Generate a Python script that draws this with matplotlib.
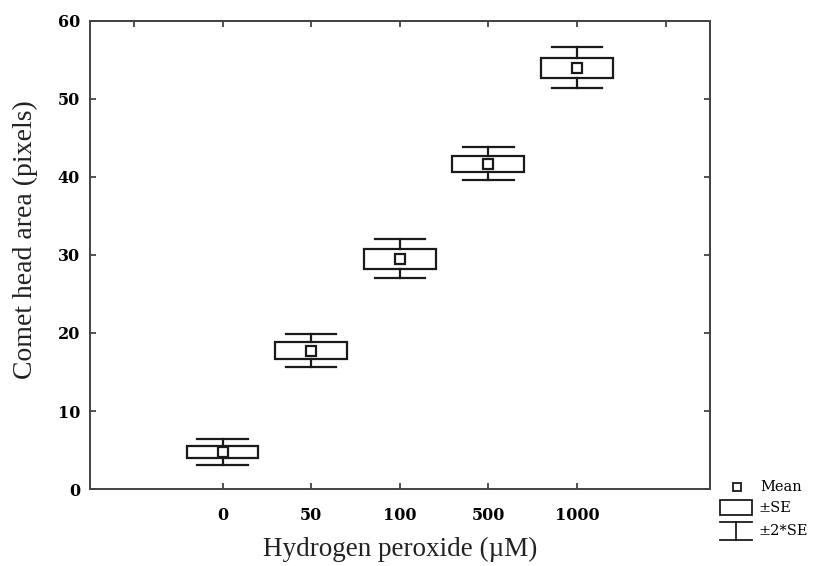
import matplotlib
matplotlib.use("Agg")
import matplotlib.pyplot as plt
from matplotlib.patches import Rectangle
from matplotlib.lines import Line2D

categories = ["0", "50", "100", "500", "1000"]
means = [4.75, 17.75, 29.5, 41.7, 54.0]
se = [0.82, 1.07, 1.25, 1.05, 1.3]
yticks = [0, 10, 20, 30, 40, 50, 60]

plt.rcParams['font.family'] = ['Liberation Serif', 'DejaVu Serif']

fig = plt.figure(figsize=(8.15, 5.66), dpi=100)
ax = fig.add_axes([0.110, 0.136, 0.761, 0.827])

box_w = 0.81
cap_w = 0.57
lw = 1.6
col = "#1a1a1a"
for i, (m, s) in enumerate(zip(means, se)):
    ax.add_patch(Rectangle((i - box_w / 2, m - s), box_w, 2 * s, fill=False,
                           edgecolor=col, linewidth=lw, zorder=3))
    ax.plot([i, i], [m + s, m + 2 * s], color=col, lw=lw, zorder=3)
    ax.plot([i, i], [m - s, m - 2 * s], color=col, lw=lw, zorder=3)
    ax.plot([i - cap_w / 2, i + cap_w / 2], [m + 2 * s] * 2, color=col, lw=lw, zorder=3)
    ax.plot([i - cap_w / 2, i + cap_w / 2], [m - 2 * s] * 2, color=col, lw=lw, zorder=3)
    ax.plot([i], [m], marker='s', markersize=6.5, markerfacecolor='white',
            markeredgecolor=col, markeredgewidth=1.6, linestyle='none', zorder=4)

ax.set_xlim(-1.5, len(categories) + 0.5)
ax.set_ylim(0, 60)
tick_font = dict(family='DejaVu Serif', fontweight='bold', fontsize=11.5)
ax.set_xticks(range(len(categories)))
ax.set_xticklabels(categories, **tick_font)
ax.set_yticks(yticks)
ax.set_yticklabels([str(v) for v in yticks], **tick_font)
ax.tick_params(axis='both', direction='in', length=4, width=1.2, color='#333333')
ax.tick_params(axis='x', pad=13)
ax.tick_params(axis='y', pad=7)

# top and right ticks
secx = ax.secondary_xaxis('top')
secx.set_xticks(range(-1, len(categories) + 1))
secx.set_xticklabels([])
secx.tick_params(direction='in', length=4, width=1.2, color='#333333')
secy = ax.secondary_yaxis('right')
secy.set_yticks(yticks)
secy.set_yticklabels([])
secy.tick_params(direction='in', length=4, width=1.2, color='#333333')
for sp in list(ax.spines.values()) + list(secx.spines.values()) + list(secy.spines.values()):
    sp.set_linewidth(1.4)
    sp.set_color('#444444')

fig.text(400 / 815, 1 - 549 / 566, "Hydrogen peroxide (µM)", fontsize=19.5,
         ha='center', va='center', color='#222222')
fig.text(25 / 815, 1 - 240 / 566, "Comet head area (pixels)", fontsize=20,
         ha='center', va='center', rotation=90, color='#222222')

# legend drawn in figure pixel coordinates
def fx(px):
    return px / 815.0
def fy(py):
    return 1 - py / 566.0

leg_font = dict(family='DejaVu Serif', fontsize=10.5, va='center', ha='left')
fig.add_artist(Line2D([fx(737)], [fy(487)], marker='s', markersize=6, markerfacecolor='white',
                      markeredgecolor=col, markeredgewidth=1.3, transform=fig.transFigure))
fig.text(fx(760), fy(487), "Mean", **leg_font)
fig.add_artist(Rectangle((fx(720), fy(515)), fx(752) - fx(720), fy(500) - fy(515), fill=False,
                         edgecolor=col, linewidth=1.3, transform=fig.transFigure))
fig.text(fx(759), fy(508), "±SE", **leg_font)
fig.add_artist(Line2D([fx(720), fx(752)], [fy(522), fy(522)], color=col, lw=1.3, transform=fig.transFigure))
fig.add_artist(Line2D([fx(736), fx(736)], [fy(522), fy(540)], color=col, lw=1.3, transform=fig.transFigure))
fig.add_artist(Line2D([fx(720), fx(752)], [fy(540), fy(540)], color=col, lw=1.3, transform=fig.transFigure))
fig.text(fx(759), fy(531), "±2*SE", **leg_font)

fig.savefig("out.png", dpi=100)
